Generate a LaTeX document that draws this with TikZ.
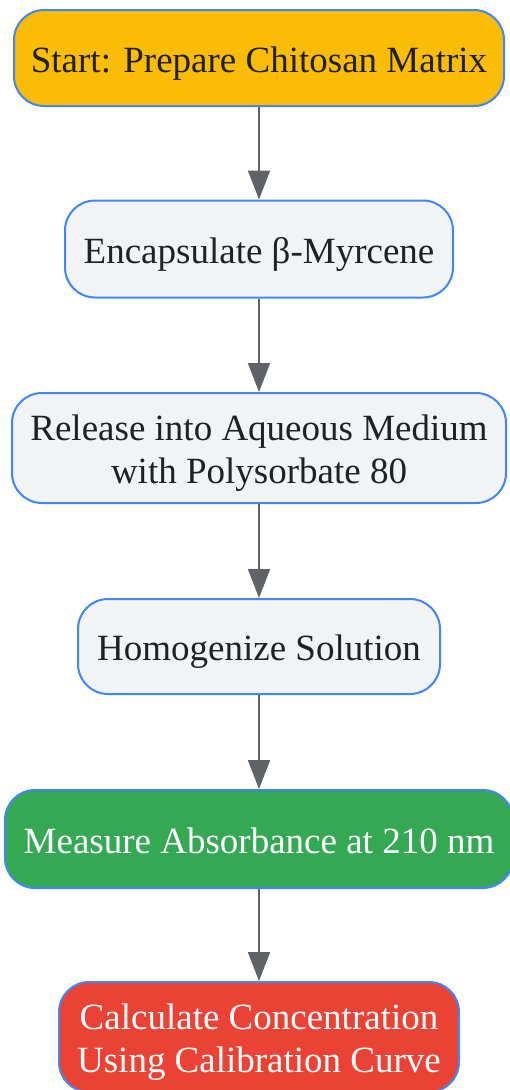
\documentclass[tikz,border=0pt]{standalone}
\usepackage{fontspec}
\setmainfont{Liberation Serif}
\usetikzlibrary{arrows.meta}
\definecolor{gyellow}{HTML}{FBBC05}
\definecolor{gblue}{HTML}{4285F4}
\definecolor{ggray}{HTML}{F1F3F4}
\definecolor{ggreen}{HTML}{34A853}
\definecolor{gred}{HTML}{EA4335}
\definecolor{garrow}{HTML}{5F6368}
\definecolor{gtext}{HTML}{202124}
\tikzset{
  box/.style={draw=gblue, line width=2pt, rounded corners=30pt, inner sep=0pt},
  lightbox/.style={box, fill=ggray},
  label/.style={inner sep=0pt, align=center, text=gtext, font=\fontsize{37}{43}\selectfont},
  oneline/.style={label, text height=25.3pt, text depth=8pt},
  conn/.style={draw=garrow, line width=2pt, -{Triangle[width=22pt,length=29pt]}},
}
\begin{document}
\begin{tikzpicture}[x=1pt,y=1pt]
\useasboundingbox (0,0) rectangle (509,-1090);
\node[box, fill=gyellow, minimum width=490pt, minimum height=96pt] (n1) at (259,-58) {};
\node[lightbox, minimum width=388pt, minimum height=97pt] (n2) at (259,-249) {};
\node[lightbox, minimum width=494pt, minimum height=110pt] (n3) at (259,-448) {};
\node[lightbox, minimum width=362pt, minimum height=95pt] (n4) at (259,-646.5) {};
\node[box, fill=ggreen, minimum width=508pt, minimum height=98pt] (n5) at (259,-839) {};
\node[box, fill=gred, minimum width=400pt, minimum height=110pt] (n6) at (259,-1037) {};
\node[oneline] (t1) at ([yshift=-5.5pt]n1.center) {Start: Prepare Chitosan Matrix};
\node[oneline] (t2) at ([yshift=-5.5pt]n2.center) {Encapsulate β-Myrcene};
\node[label] (t3) at ([yshift=-5.5pt]n3.center) {Release into Aqueous Medium\\with Polysorbate 80};
\node[oneline] (t4) at ([yshift=-5.5pt]n4.center) {Homogenize Solution};
\node[oneline, text=white] (t5) at ([yshift=-5.5pt]n5.center) {Measure Absorbance at 210 nm};
\node[label, text=white] (t6) at ([yshift=-5.5pt]n6.center) {Calculate Concentration\\Using Calibration Curve};
\draw[conn] (n1) -- (n2);
\draw[conn] (n2) -- (n3);
\draw[conn] (n3) -- (n4);
\draw[conn] (n4) -- (n5);
\draw[conn] (n5) -- (n6);
\end{tikzpicture}
\end{document}
